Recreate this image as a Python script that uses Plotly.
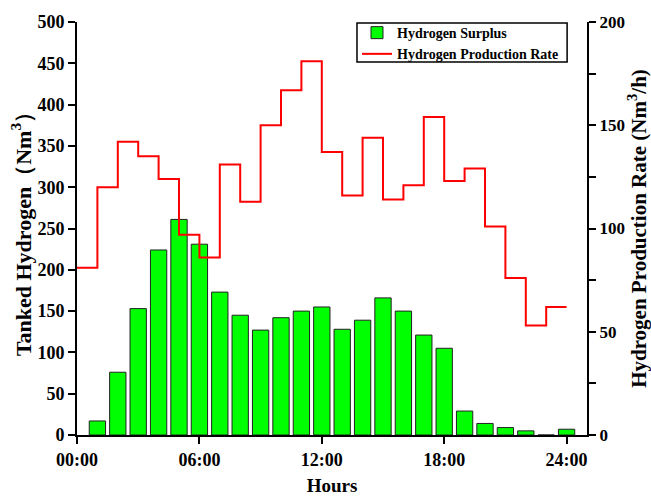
import plotly.graph_objects as go

bar_hours = list(range(1, 25))
surplus = [17, 76, 153, 224, 261, 231, 173, 145, 127, 142, 150, 155,
           128, 139, 166, 150, 121, 105, 29, 14, 9, 5, 0, 7]

rate_hours = list(range(0, 25))
rate = [81, 120, 142, 135, 124, 97, 86, 131, 113, 150, 167, 181,
        137, 116, 144, 114, 121, 154, 123, 129, 101, 76, 53, 62]
rate_plot = rate + [rate[-1]]

tick_vals = [0, 6, 12, 18, 24]
tick_text = ["00:00", "06:00", "12:00", "18:00", "24:00"]
left_ticks = list(range(0, 501, 50))
right_ticks = [0, 50, 100, 150, 200]
right_minor = [25, 75, 125, 175]

FONT = "Liberation Serif"
AX = dict(showgrid=False, zeroline=False, showline=True, linecolor="black", linewidth=2,
          ticks="outside", ticklen=7, tickwidth=2, tickcolor="black", automargin=False)

fig = go.Figure()
fig.add_trace(go.Bar(
    x=bar_hours, y=surplus, width=0.8, name="<b>Hydrogen Surplus</b>",
    marker=dict(color="#00FF00", line=dict(color="#222222", width=1)),
    yaxis="y"))
fig.add_trace(go.Scatter(
    x=rate_hours, y=rate_plot, mode="lines", line_shape="hv",
    line=dict(color="#FF0000", width=2), name="<b>Hydrogen Production Rate</b>",
    yaxis="y2"))

fig.update_layout(
    width=651, height=497,
    margin=dict(l=77, r=64, t=22, b=62),
    plot_bgcolor="white", paper_bgcolor="white",
    font=dict(family=FONT, size=18, color="black"),
    xaxis=dict(range=[0, 25], tickvals=tick_vals, ticktext=[f"<b>{t}</b>" for t in tick_text],
               tickfont=dict(size=18),
               title=dict(text="<b>Hours</b>", font=dict(size=19), standoff=10), **AX),
    yaxis=dict(range=[0, 500], tickvals=left_ticks,
               ticktext=[f"<b>{v}</b>" for v in left_ticks], tickfont=dict(size=18),
               title=dict(text="<b>Tanked Hydrogen（Nm<sup>3</sup>）</b>", font=dict(size=22), standoff=0),
               **AX),
    yaxis2=dict(range=[0, 200], overlaying="y", side="right",
                tickvals=right_ticks, ticktext=[f"<b>{v}</b>" for v in right_ticks],
                tickfont=dict(size=17),
                minor=dict(tickvals=right_minor, ticks="outside", ticklen=7, tickwidth=2, tickcolor="black"),
                title=dict(text="<b>Hydrogen Production Rate (Nm<sup>3</sup>/h)</b>", font=dict(size=21), standoff=8),
                **AX),
    legend=dict(x=0.549, y=1.012, xanchor="left", yanchor="top", bgcolor="rgba(0,0,0,0)",
                borderwidth=0, font=dict(size=14), tracegroupgap=0),
    showlegend=True,
    shapes=[dict(type="rect", xref="paper", yref="paper", x0=0.549, x1=0.961, y0=0.903, y1=0.9976,
                 line=dict(color="black", width=1.5), fillcolor="white", layer="below")],
)

fig.write_html("out.html", post_script="document.body.style.margin='0';",
               config={"displayModeBar": False})
